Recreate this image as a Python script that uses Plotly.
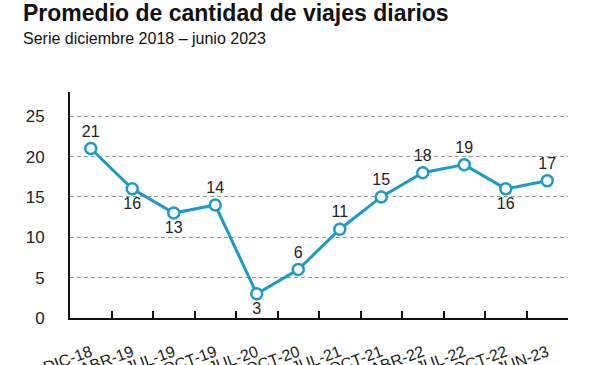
import plotly.graph_objects as go

categories = ["DIC-18", "ABR-19", "JUL-19", "OCT-19", "JUL-20", "OCT-20",
              "JUL-21", "OCT-21", "ABR-22", "JUL-22", "OCT-22", "JUN-23"]
values = [21, 16, 13, 14, 3, 6, 11, 15, 18, 19, 16, 17]
label_pos = ["top center", "bottom center", "bottom center", "top center",
             "bottom center", "top center", "top center", "top center",
             "top center", "top center", "bottom center", "top center"]
y_ticks = [0, 5, 10, 15, 20, 25]

title = "Promedio de cantidad de viajes diarios"
subtitle = "Serie diciembre 2018 – junio 2023"

blue = "#1d9bc8"
font_main = "Liberation Sans, Arial, sans-serif"

fig = go.Figure()
fig.add_trace(go.Scatter(
    x=categories, y=values, mode="lines+markers+text",
    text=[str(v) for v in values], textposition=label_pos,
    textfont=dict(family=font_main, size=16, color="#222"),
    line=dict(color=blue, width=3),
    marker=dict(symbol="circle", size=11, color="white",
                line=dict(color=blue, width=2.5)),
    cliponaxis=False, showlegend=False, hoverinfo="skip",
))

fig.update_layout(
    width=600, height=365,
    margin=dict(l=70, r=32, t=92, b=47, autoexpand=False),
    paper_bgcolor="white", plot_bgcolor="white",
    xaxis=dict(
        type="category", showgrid=False, zeroline=False, automargin=False,
        showline=True, linecolor="#111", linewidth=2,
        ticks="inside", tickson="boundaries", ticklen=7, tickwidth=2,
        tickcolor="#111", tickangle=-20,
        tickfont=dict(family=font_main, size=16, color="#222"),
        ticklabelstandoff=17, range=[-0.5, 11.5],
    ),
    yaxis=dict(
        range=[0, 28], tickvals=y_ticks, showgrid=True, automargin=False,
        gridcolor="#999", griddash="4px,3px", gridwidth=1,
        zeroline=False, showline=True, linecolor="#111", linewidth=2,
        ticks="", tickfont=dict(family=font_main, size=17, color="#222"),
        ticklabelstandoff=20,
    ),
    annotations=[
        dict(text="<b>" + title + "</b>", xref="paper", yref="paper",
             x=0, xshift=-49, y=1.348, xanchor="left", yanchor="middle",
             showarrow=False,
             font=dict(family=font_main, size=23, color="#111")),
        dict(text=subtitle, xref="paper", yref="paper",
             x=0, xshift=-49, y=1.237, xanchor="left", yanchor="middle",
             showarrow=False,
             font=dict(family=font_main, size=16, color="#111")),
    ],
)

fig.write_html(
    "out.html",
    config={"displayModeBar": False},
    post_script="document.body.style.margin='0';document.body.style.overflow='hidden';",
)
